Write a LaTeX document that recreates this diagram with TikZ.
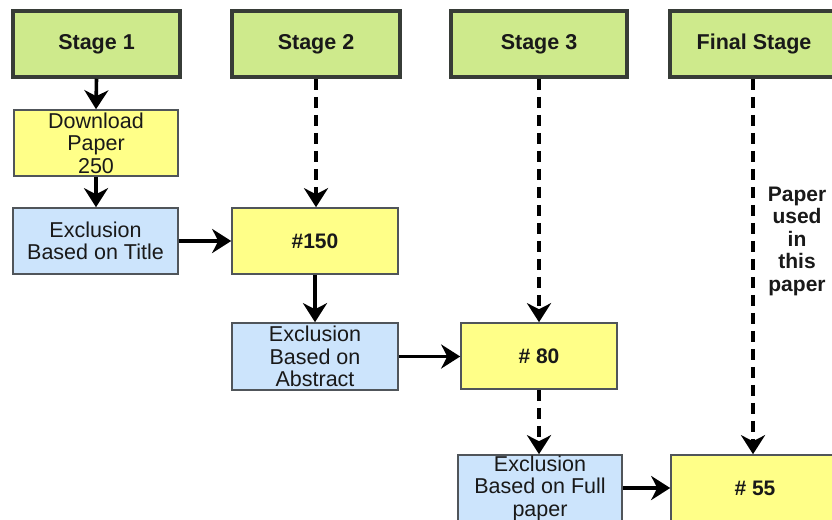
\documentclass[tikz,border=0pt]{standalone}
\usepackage{fontspec}
\setmainfont{Liberation Sans}
\usetikzlibrary{arrows.meta}
\definecolor{stagegreen}{RGB}{206,234,140}
\definecolor{stageborder}{RGB}{55,60,55}
\definecolor{boxyellow}{RGB}{255,255,136}
\definecolor{boxblue}{RGB}{204,228,252}
\definecolor{boxborder}{RGB}{80,85,90}
\definecolor{txt}{RGB}{25,25,25}
\begin{document}
\begin{tikzpicture}[x=1pt,y=-1pt,
  stagebox/.style={draw=stageborder,line width=3.5pt,fill=stagegreen,minimum width=168pt,minimum height=66pt,inner sep=0pt,font=\fontsize{21.5}{22}\selectfont\bfseries,text=txt},
  ybox/.style={draw=boxborder,line width=1.6pt,fill=boxyellow,minimum width=165pt,minimum height=66pt,inner sep=0pt,align=center,text=txt},
  bbox/.style={draw=boxborder,line width=1.6pt,fill=boxblue,minimum width=165pt,minimum height=66pt,inner sep=0pt,align=center,text=txt,font=\fontsize{21.5}{22.5}\selectfont},
  num/.style={font=\fontsize{21}{22}\selectfont\bfseries},
  arr/.style={line width=3.6pt,-{Stealth[length=19pt,width=24pt,inset=6pt]}},
  darr/.style={arr,dash pattern=on 11pt off 7pt}]
\useasboundingbox (0,0) rectangle (832,519);
\clip (0,0) rectangle (832,519);
\fill[white] (0,0) rectangle (832,519);
% stage boxes
\node[stagebox,minimum width=167pt] (s1) at (96.5,44) {Stage 1};
\node[stagebox] (s2) at (316,44) {Stage 2};
\node[stagebox,minimum width=176pt] (s3) at (539,44) {Stage 3};
\node[stagebox] (s4) at (754,44) {Final Stage};
% stage 1 column
\node[ybox,minimum width=164pt,font=\fontsize{21.5}{22.5}\selectfont] (dl) at (96,143) {Download\\Paper\\250};
\node[bbox] (ti) at (95.5,241) {Exclusion\\Based on Title};
% stage 2 column
\node[ybox,minimum width=166pt,num] (n150) at (315,241) {\#150};
\node[bbox,minimum width=166pt,minimum height=67pt] (ab) at (315,356.5) {Exclusion\\Based on\\Abstract};
% stage 3 column
\node[ybox,minimum width=156pt,num] (n80) at (539,356) {\# 80};
\node[bbox,minimum width=164pt] (fp) at (540,488) {Exclusion\\Based on Full\\paper};
% final column
\node[ybox,minimum width=168pt,num] (n55) at (755,488) {\# 55};
\node[align=center,inner sep=0pt,font=\fontsize{21}{22.5}\selectfont\bfseries,text=txt] (used) at (797,241) {Paper\\used\\in\\this\\paper};
% connectors
\draw[arr] (s1.south) -- (dl.north);
\draw[arr] (dl.south) -- (dl.south |- ti.north);
\draw[arr] (ti.east) -- (n150.west);
\draw[darr] (s2.south) -- (s2.south |- n150.north);
\draw[arr] (n150.south) -- (ab.north);
\draw[arr] (ab.east) -- (ab.east -| n80.west);
\draw[darr] (s3.south) -- (n80.north);
\draw[darr] (n80.south) -- (n80.south |- fp.north);
\draw[arr] (fp.east) -- (fp.east -| n55.west);
\draw[darr] ([xshift=-1pt]s4.south) -- ([xshift=-1pt]s4.south |- n55.north);
\end{tikzpicture}
\end{document}
